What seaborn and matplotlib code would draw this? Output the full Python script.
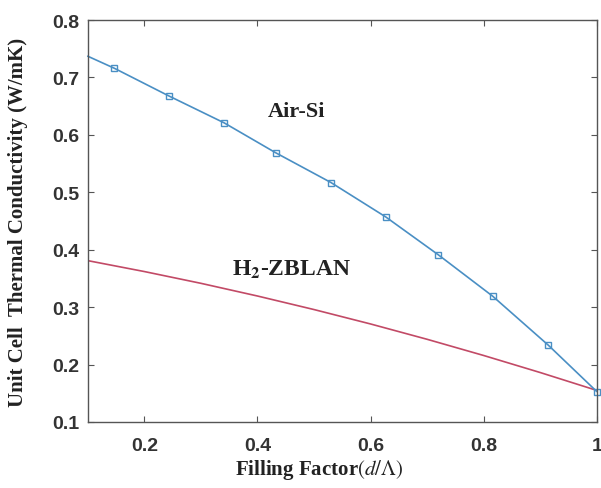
import numpy as np
import pandas as pd
import matplotlib
matplotlib.use("Agg")
import matplotlib.pyplot as plt
import seaborn as sns

# Air-Si curve (first point is the line start at the left edge, no marker)
air_si_x = [0.1, 0.147, 0.243, 0.341, 0.432, 0.530, 0.627, 0.720, 0.816, 0.914, 1.0]
air_si_y = [0.737, 0.716, 0.668, 0.621, 0.569, 0.517, 0.457, 0.391, 0.319, 0.234, 0.153]

# H2-ZBLAN curve
zblan_x = [0.1, 0.2, 0.3, 0.4, 0.5, 0.6, 0.7, 0.8, 0.9, 1.0]
zblan_y = [0.381, 0.362, 0.3415, 0.3194, 0.2958, 0.2707, 0.2440, 0.2158, 0.1861, 0.155]

x_ticks = [0.2, 0.4, 0.6, 0.8, 1.0]
x_tick_labels = ["0.2", "0.4", "0.6", "0.8", "1"]
y_ticks = [0.1, 0.2, 0.3, 0.4, 0.5, 0.6, 0.7, 0.8]

blue = "#4a8fc4"
red = "#c24a66"

sns.set_style("ticks")
plt.rcParams["font.family"] = ["Liberation Sans", "DejaVu Sans"]
plt.rcParams["mathtext.fontset"] = "stix"

fig = plt.figure(figsize=(6.01, 4.89), dpi=100)
ax = fig.add_axes([0.146, 0.135, 0.847, 0.822])

air_df = pd.DataFrame({"x": air_si_x, "y": air_si_y})
zb_df = pd.DataFrame({"x": zblan_x, "y": zblan_y})

sns.lineplot(data=zb_df, x="x", y="y", ax=ax, color=red, linewidth=1.2)
sns.lineplot(data=air_df, x="x", y="y", ax=ax, color=blue, linewidth=1.2,
             marker="s", markersize=5, markerfacecolor="none",
             markeredgecolor=blue, markeredgewidth=1.0,
             markevery=list(range(1, len(air_si_x))), clip_on=False)

ax.set_xlim(0.1, 1.0)
ax.set_ylim(0.1, 0.8)
ax.set_xticks(x_ticks)
ax.set_xticklabels(x_tick_labels)
ax.set_yticks(y_ticks)
ax.set_yticklabels([f"{v:.1f}" for v in y_ticks])

for s in ax.spines.values():
    s.set_visible(True)
    s.set_color("#555555")
    s.set_linewidth(1.0)
ax.tick_params(direction="in", length=4, width=0.8, color="#555555",
               top=True, right=True, labelsize=14, labelcolor="#333333")
ax.tick_params(axis="x", pad=11)
ax.tick_params(axis="y", pad=6)
for lab in ax.get_xticklabels() + ax.get_yticklabels():
    lab.set_fontweight("bold")

serif = ["Liberation Serif", "DejaVu Serif"]
ax.set_xlabel(r"Filling Factor$\left(d/\Lambda\right)$", fontsize=15,
              fontweight="bold", family=serif, color="#222222")
ax.xaxis.set_label_coords(0.455, -0.087)
ax.set_ylabel("Unit Cell  Thermal Conductivity (W/mK)", fontsize=15,
              fontweight="bold", family=serif, color="#222222")
ax.yaxis.set_label_coords(-0.118, 0.5)

ax.text(0.418, 0.642, "Air-Si", fontsize=16, fontweight="bold",
        family=serif, color="#222222", va="center", ha="left")
ax.text(0.355, 0.366, r"H$_\mathbf{2}$-ZBLAN", fontsize=17, fontweight="bold",
        family=serif, color="#222222", va="center", ha="left")

fig.savefig("out.png", dpi=100)
